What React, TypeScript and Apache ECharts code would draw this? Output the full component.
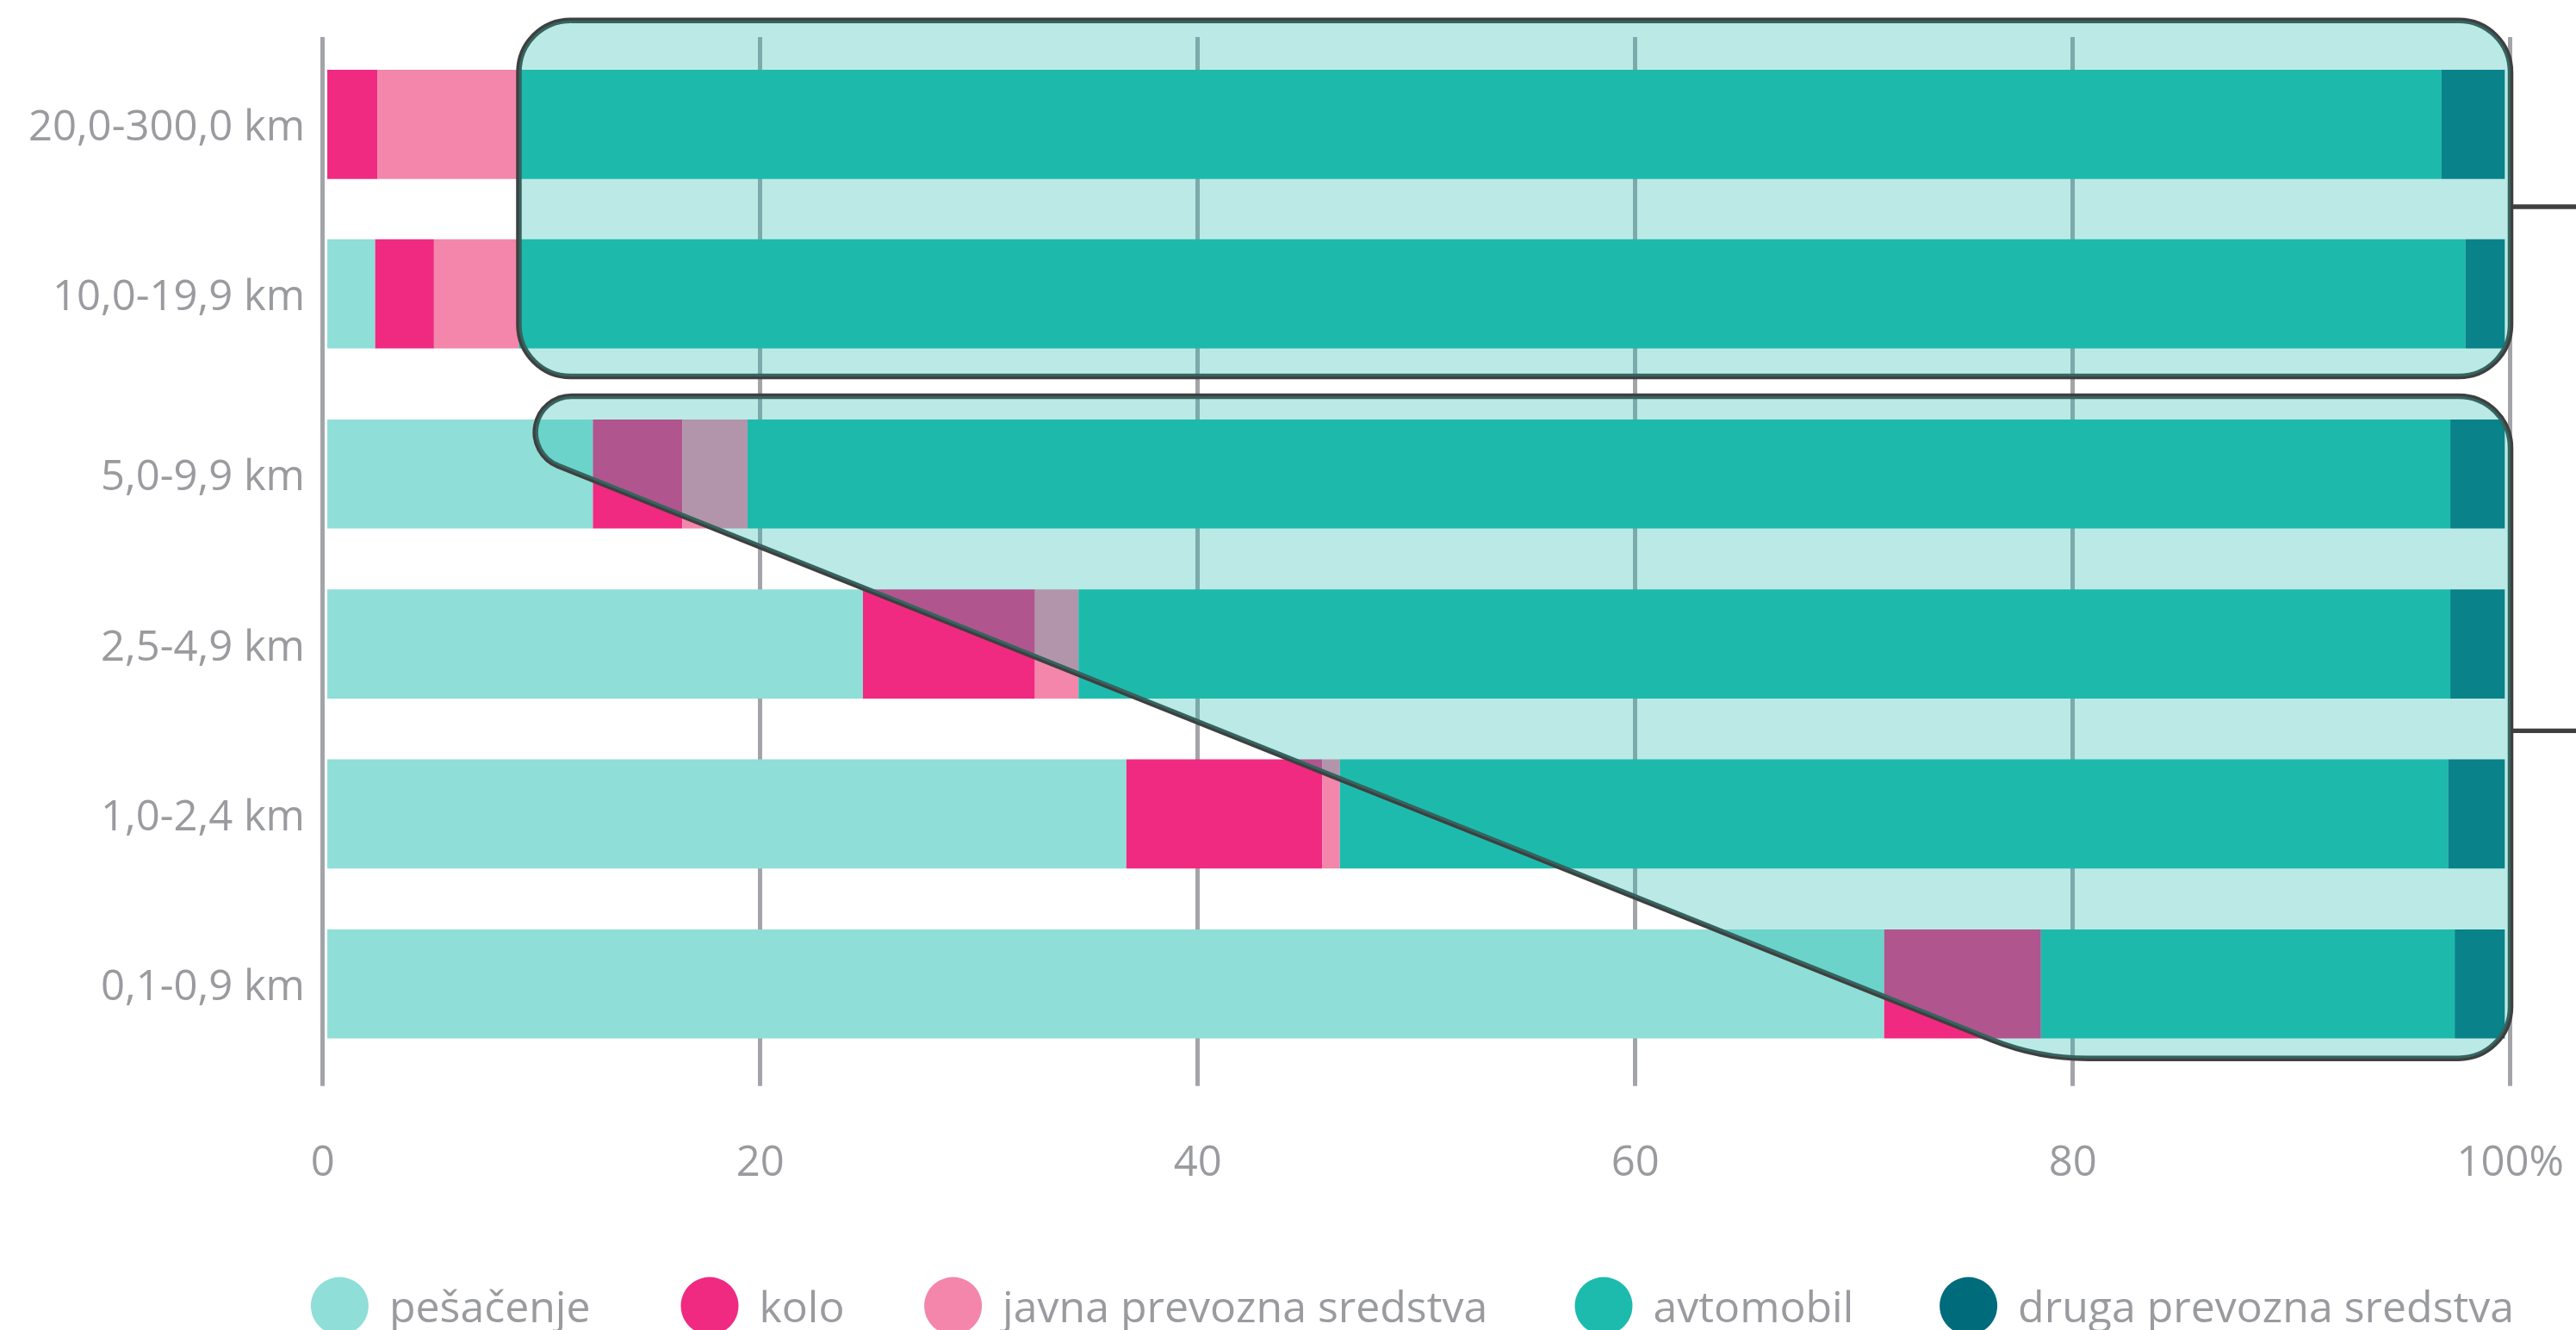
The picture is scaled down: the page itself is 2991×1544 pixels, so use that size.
import React, { useEffect, useRef } from "react";
import * as echarts from "echarts";

// ---------- data ----------
const categories = [
  "20,0-300,0 km",
  "10,0-19,9 km",
  "5,0-9,9 km",
  "2,5-4,9 km",
  "1,0-2,4 km",
  "0,1-0,9 km",
];
const groupSizes = [2, 4];
const seriesNames = [
  "pešačenje",
  "kolo",
  "javna prevozna sredstva",
  "avtomobil",
  "druga prevozna sredstva",
];
const pesacenje = [0, 2.2, 12.2, 24.6, 36.7, 71.5];
const kolo = [2.3, 2.7, 4.1, 7.9, 9.0, 7.2];
const javna = [6.5, 3.9, 3.0, 2.0, 0.8, 0];
const avtomobil = [88.3, 89.4, 78.2, 63.0, 50.9, 19.0];
const druga = [2.9, 1.8, 2.5, 2.5, 2.6, 2.3];
const xMin = 0;
const xMax = 100;
const xInterval = 20;

const seriesValues = [pesacenje, kolo, javna, avtomobil, druga];
const colors = ["#8fded7", "#ef2a80", "#f386aa", "#1dbbad", "#006b7b"];

// ---------- layout / style ----------
const W = 2991;
const H = 1544;
const FONT = "Open Sans";
const GRAY = "#9a9b9f";
const BOX_STROKE = "#3f3f3f";
const BOX_FILL = "rgba(29,187,173,0.3)";
const legendCenters = [394.4, 824, 1106.6, 1862, 2285.6];

export default function App() {
  const ref = useRef<HTMLDivElement | null>(null);

  useEffect(() => {
    document.body.style.margin = "0";
    if (!ref.current) return;
    const chart = echarts.init(ref.current, undefined, { renderer: "svg" });

    const barGrids = [
      { left: 380, top: 46, width: 2528.3, height: 393.4 },
      { left: 380, top: 451.6, width: 2528.3, height: 789.3 },
    ];

    const grids: any[] = [
      { left: 374.7, top: 43, width: 2540, height: 1217.7, outerBoundsMode: "none" },
      ...barGrids.map((g) => ({ ...g, outerBoundsMode: "none" })),
    ];

    const xAxes: any[] = [
      {
        type: "value",
        gridIndex: 0,
        min: xMin,
        max: xMax,
        interval: xInterval,
        axisLine: { show: false },
        axisTick: { show: false },
        splitLine: { show: true, lineStyle: { color: "#a3a4a8", width: 5 } },
        axisLabel: {
          color: GRAY,
          fontSize: 49,
          fontFamily: FONT,
          margin: 61,
          formatter: (v: number) => (v === xMax ? `${v}%` : `${v}`),
        },
      },
      ...barGrids.map((_, i) => ({
        type: "value",
        gridIndex: i + 1,
        min: xMin,
        max: xMax,
        show: false,
      })),
    ];

    const groupCats: string[][] = [];
    let start = 0;
    groupSizes.forEach((n) => {
      groupCats.push(categories.slice(start, start + n));
      start += n;
    });

    const yAxes: any[] = [
      { type: "value", gridIndex: 0, show: false },
      ...groupCats.map((cats, i) => ({
        type: "category",
        gridIndex: i + 1,
        data: cats,
        inverse: true,
        axisLine: { show: false },
        axisTick: { show: false },
        splitLine: { show: false },
        axisLabel: {
          color: GRAY,
          fontSize: 49,
          fontFamily: FONT,
          margin: 26,
        },
      })),
    ];

    const series: any[] = [];
    let s0 = 0;
    groupSizes.forEach((n, g) => {
      seriesNames.forEach((name, k) => {
        series.push({
          type: "bar",
          name,
          stack: "group" + g,
          xAxisIndex: g + 1,
          yAxisIndex: g + 1,
          barWidth: 126.7,
          itemStyle: { color: colors[k] },
          data: seriesValues[k].slice(s0, s0 + n),
          z: 2,
        });
      });
      s0 += n;
    });

    const legends = seriesNames.map((name, i) => ({
      data: [name],
      left: legendCenters[i] - 33.5,
      top: 1482.5,
      orient: "horizontal",
      icon: "circle",
      itemWidth: 67,
      itemHeight: 67,
      padding: 0,
      textStyle: {
        color: GRAY,
        fontSize: 50,
        fontFamily: FONT,
        padding: [0, 0, 0, 19],
      },
    }));

    chart.setOption({
      animation: false,
      textStyle: { fontFamily: FONT },
      grid: grids,
      xAxis: xAxes,
      yAxis: yAxes,
      series,
      legend: legends,
    });

    // ---------- annotation boxes anchored on the axes ----------
    const xp = (v: number) => chart.convertToPixel({ xAxisIndex: 1 }, v) as number;
    const yc = (row: number) => {
      const g = row < groupSizes[0] ? 0 : 1;
      return chart.convertToPixel({ yAxisIndex: g + 1 }, categories[row]) as number;
    };
    const avtoStart = (row: number) => pesacenje[row] + kolo[row] + javna[row];

    const R = 60;
    const right = xp(xMax) + 6.7;

    // top box
    const tLeft = xp(Math.min(avtoStart(0), avtoStart(1)));
    const tTop = yc(0) - 120.6;
    const tBottom = yc(1) + 96;
    const topShape = { x: tLeft, y: tTop, width: right - tLeft, height: tBottom - tTop, r: R };

    // bottom box with slanted left side
    const bTop = yc(2) - 90.3;
    const bBottom = yc(5) + 86.4;
    const q1 = [xp(10.6), yc(2) - 9.5];
    const q2 = [xp(68.0), yc(5) - 20.6];
    const m = (q2[1] - q1[1]) / (q2[0] - q1[0]);
    const th = Math.atan(m);
    const ux = Math.cos(th);
    const uy = Math.sin(th);
    const half = Math.tan(th / 2);
    const v1x = q1[0] + (bTop - q1[1]) / m;
    const v2x = q1[0] + (bBottom - q1[1]) / m;
    const r1 = 41.9;
    const t1 = r1 / half;
    const r2 = 300;
    const t2 = r2 * half;
    const T1top = [v1x + t1, bTop];
    const T1diag = [v1x + t1 * ux, bTop + t1 * uy];
    const T2diag = [v2x - t2 * ux, bBottom - t2 * uy];
    const T2bot = [v2x + t2, bBottom];
    const f = (n: number) => n.toFixed(2);
    const d =
      `M ${f(T1top[0])} ${f(T1top[1])} ` +
      `L ${f(right - R)} ${f(bTop)} ` +
      `A ${R} ${R} 0 0 1 ${f(right)} ${f(bTop + R)} ` +
      `L ${f(right)} ${f(bBottom - R)} ` +
      `A ${R} ${R} 0 0 1 ${f(right - R)} ${f(bBottom)} ` +
      `L ${f(T2bot[0])} ${f(T2bot[1])} ` +
      `A ${r2} ${r2} 0 0 1 ${f(T2diag[0])} ${f(T2diag[1])} ` +
      `L ${f(T1diag[0])} ${f(T1diag[1])} ` +
      `A ${r1} ${r1} 0 0 1 ${f(T1top[0])} ${f(T1top[1])} Z`;
    echarts.graphic.registerShape("bottomBox", echarts.graphic.extendPath(d, {}));

    const connTop = (yc(0) + yc(1)) / 2 - 2.7;
    const connBottom = (yc(3) + yc(4)) / 2 + 2.2;

    chart.setOption({
      graphic: {
        elements: [
          {
            type: "rect",
            z: 100,
            shape: topShape,
            style: { fill: "none", stroke: BOX_STROKE, lineWidth: 6.5 },
            silent: true,
          },
          {
            type: "rect",
            z: 101,
            shape: topShape,
            style: { fill: BOX_FILL, stroke: "none" },
            silent: true,
          },
          {
            type: "bottomBox",
            z: 100,
            x: 0,
            y: 0,
            scaleX: 1,
            scaleY: 1,
            style: { fill: "none", stroke: BOX_STROKE, lineWidth: 6.5 },
            silent: true,
          },
          {
            type: "bottomBox",
            z: 101,
            x: 0,
            y: 0,
            scaleX: 1,
            scaleY: 1,
            style: { fill: BOX_FILL, stroke: "none" },
            silent: true,
          },
          {
            type: "line",
            z: 100,
            shape: { x1: right + 3, y1: connTop, x2: W, y2: connTop },
            style: { stroke: "#404040", lineWidth: 5.3 },
            silent: true,
          },
          {
            type: "line",
            z: 100,
            shape: { x1: right + 3, y1: connBottom, x2: W, y2: connBottom },
            style: { stroke: "#404040", lineWidth: 5.3 },
            silent: true,
          },
        ],
      },
    });

    return () => {
      chart.dispose();
    };
  }, []);

  return <div ref={ref} style={{ width: W, height: H, overflow: "hidden" }} />;
}
